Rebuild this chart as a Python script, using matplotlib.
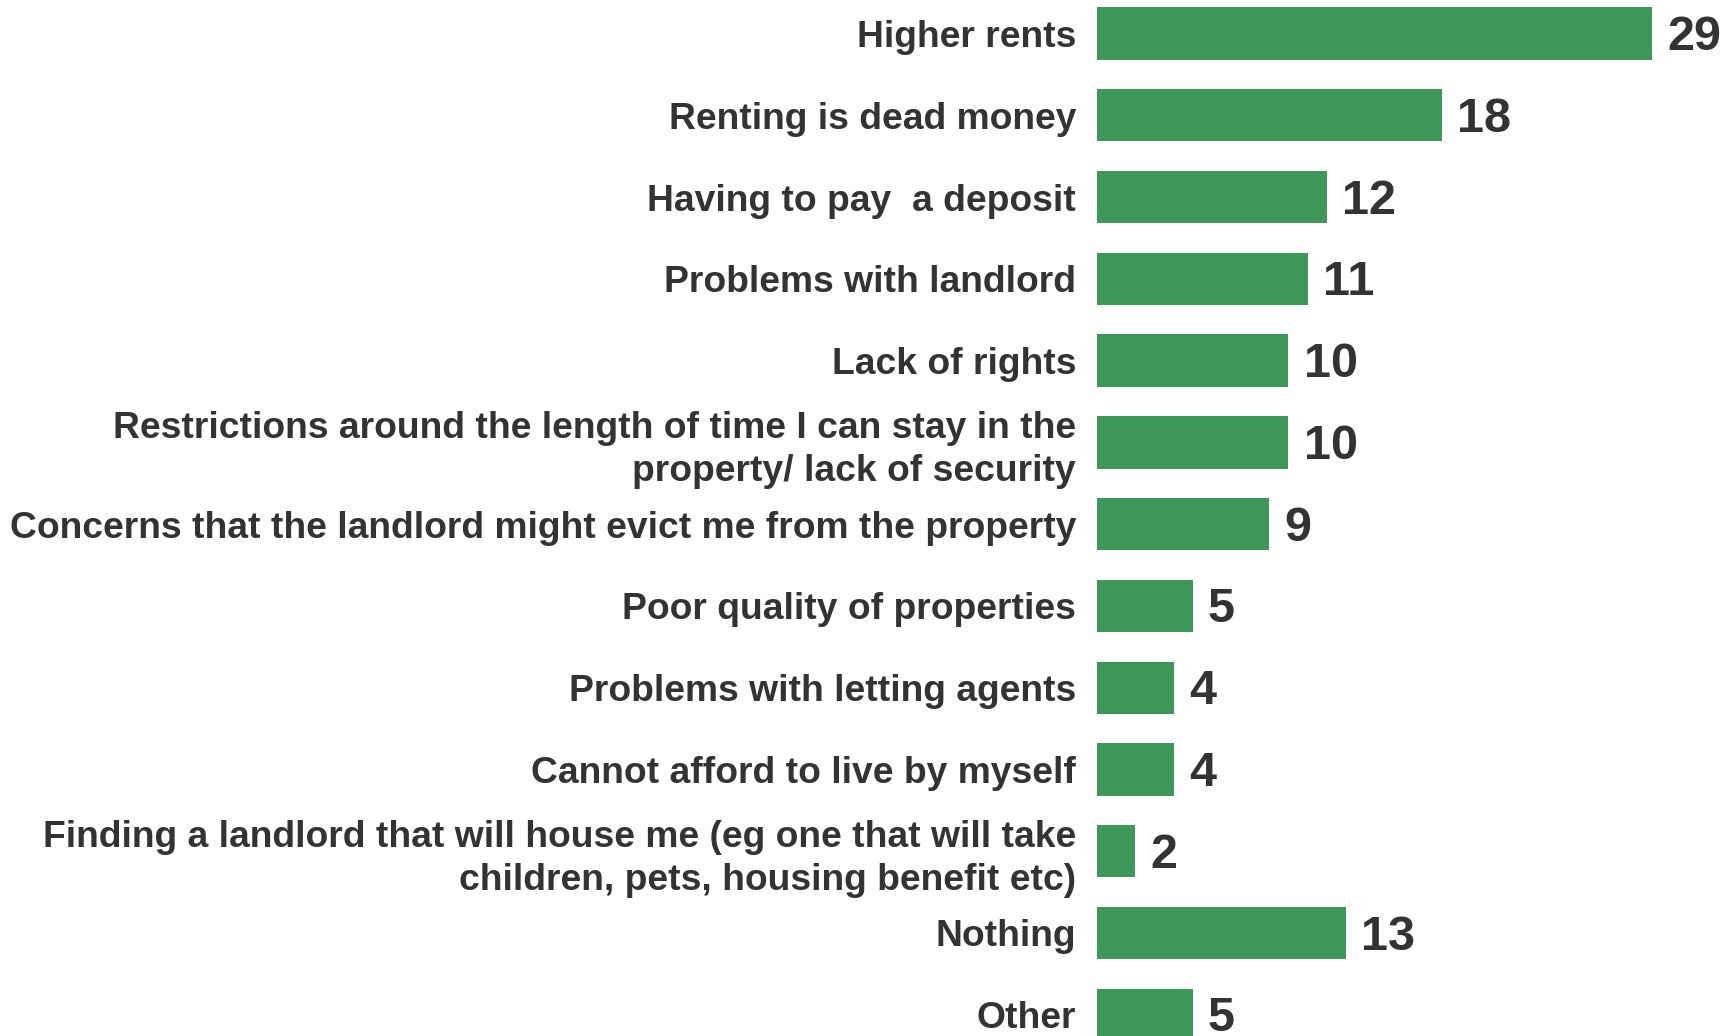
import matplotlib
matplotlib.use("Agg")
import matplotlib.pyplot as plt

categories = [
    "Higher rents",
    "Renting is dead money",
    "Having to pay  a deposit",
    "Problems with landlord",
    "Lack of rights",
    "Restrictions around the length of time I can stay in the\nproperty/ lack of security",
    "Concerns that the landlord might evict me from the property",
    "Poor quality of properties",
    "Problems with letting agents",
    "Cannot afford to live by myself",
    "Finding a landlord that will house me (eg one that will take\nchildren, pets, housing benefit etc)",
    "Nothing",
    "Other",
]
values = [29, 18, 12, 11, 10, 10, 9, 5, 4, 4, 2, 13, 5]

green = "#3c9758"
txt = "#333333"

fig = plt.figure(figsize=(17.34, 10.36), dpi=100)
ax = fig.add_axes([1097 / 1734, 0, 637 / 1734, 1])

y = list(range(len(categories)))
ax.barh(y, values, height=0.64, color=green)
ax.set_xlim(0, 637 / 19.14)
ax.set_ylim(12.26, -0.41)

for yi, v in zip(y, values):
    ax.text(v + 0.8, yi + 0.05, str(v), va="center", ha="left", fontsize=35,
            fontweight="bold", color=txt, family="Liberation Sans")

ax.set_yticks(y)
ax.set_yticklabels(categories, fontsize=26.8, fontweight="bold", color=txt,
                   family="Liberation Sans", linespacing=1.3)
ax.tick_params(axis="y", length=0, pad=15)
ax.set_xticks([])
for s in ax.spines.values():
    s.set_visible(False)

fig.savefig("out.png", dpi=100)
